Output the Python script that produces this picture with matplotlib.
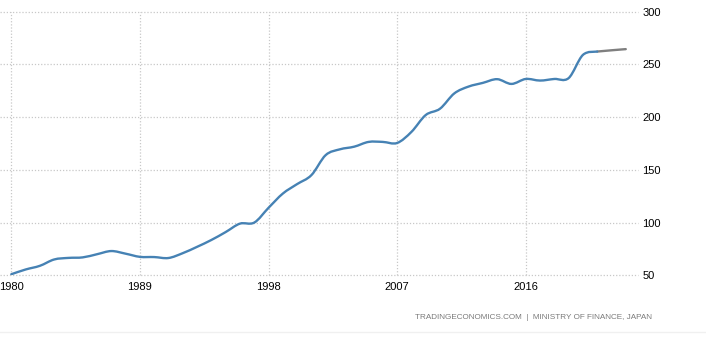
import matplotlib
matplotlib.use("Agg")
import matplotlib.pyplot as plt
from matplotlib.path import Path
from matplotlib.patches import PathPatch

# ---- data ----
years = list(range(1980, 2022))
debt = [51.0, 55.5, 59.0, 65.0, 66.5, 67.0, 70.0, 73.0, 70.5, 67.5,
        67.3, 66.4, 71.0, 77.0, 83.5, 91.0, 99.0, 100.0, 114.0, 127.5,
        136.5, 145.0, 164.0, 169.5, 172.0, 176.5, 176.5, 175.5, 186.0, 202.0,
        208.0, 222.5, 229.0, 232.5, 236.0, 231.5, 236.2, 234.7, 236.2, 237.0,
        259.0, 262.2]
fc_years = [2021, 2022, 2023]
fc_debt = [262.2, 263.4, 264.5]
xtick_years = [1980, 1989, 1998, 2007, 2016]
ytick_vals = [50, 100, 150, 200, 250, 300]
source_text = "TRADINGECONOMICS.COM  |  MINISTRY OF FINANCE, JAPAN"

plt.rcParams['font.family'] = ['Liberation Sans', 'DejaVu Sans']

W, H = 706, 337
fig = plt.figure(figsize=(W / 100, H / 100), dpi=100)
ax = fig.add_axes([0.0, 1 - 275.3 / H, 638 / W, (275.3 - 11.7) / H])

px_per_year = 14.29
ax.set_xlim(1980 - 11.3 / px_per_year, 1980 + (638 - 11.3) / px_per_year)
ax.set_ylim(50, 300)


def smooth_path(xs, ys):
    pts = list(zip(xs, ys))
    verts = [pts[0]]
    codes = [Path.MOVETO]
    n = len(pts)
    for i in range(n - 1):
        p0 = pts[i - 1] if i > 0 else pts[i]
        p1 = pts[i]
        p2 = pts[i + 1]
        p3 = pts[i + 2] if i + 2 < n else pts[i + 1]
        c1 = (p1[0] + (p2[0] - p0[0]) / 6.0, p1[1] + (p2[1] - p0[1]) / 6.0)
        c2 = (p2[0] - (p3[0] - p1[0]) / 6.0, p2[1] - (p3[1] - p1[1]) / 6.0)
        verts += [c1, c2, p2]
        codes += [Path.CURVE4] * 3
    return Path(verts, codes)


ax.add_patch(PathPatch(smooth_path(fc_years, fc_debt), fill=False,
                       edgecolor='#7f7f7f', lw=1.7, capstyle='round', zorder=3))
ax.add_patch(PathPatch(smooth_path(years, debt), fill=False,
                       edgecolor='#4682b4', lw=1.7, capstyle='round',
                       joinstyle='round', zorder=4))

for s in ax.spines.values():
    s.set_visible(False)

ax.set_xticks(xtick_years)
ax.set_xticklabels([str(y) for y in xtick_years])
ax.set_yticks(ytick_vals)
ax.set_yticklabels([str(v) for v in ytick_vals])
ax.yaxis.tick_right()
ax.tick_params(axis='both', length=0, labelsize=8, labelcolor='#000000')
ax.tick_params(axis='y', pad=3)
ax.tick_params(axis='x', pad=5)
for lab in ax.get_yticklabels():
    lab.set_horizontalalignment('left')

ax.grid(True, color='#c8c8c8', linestyle=(0, (1, 1.5)), linewidth=0.9)
for gl in ax.get_xgridlines() + ax.get_ygridlines():
    gl.set_clip_on(False)
ax.set_axisbelow(True)

fig.text(415 / W, 1 - 317.7 / H, source_text, fontsize=5.9, color='#7a7a7a',
         ha='left', va='center')
fig.add_artist(plt.Line2D([0, 1], [1 - 332 / H, 1 - 332 / H],
                          transform=fig.transFigure, color='#f0f0f0', lw=1))

fig.savefig("out.png", dpi=100)
